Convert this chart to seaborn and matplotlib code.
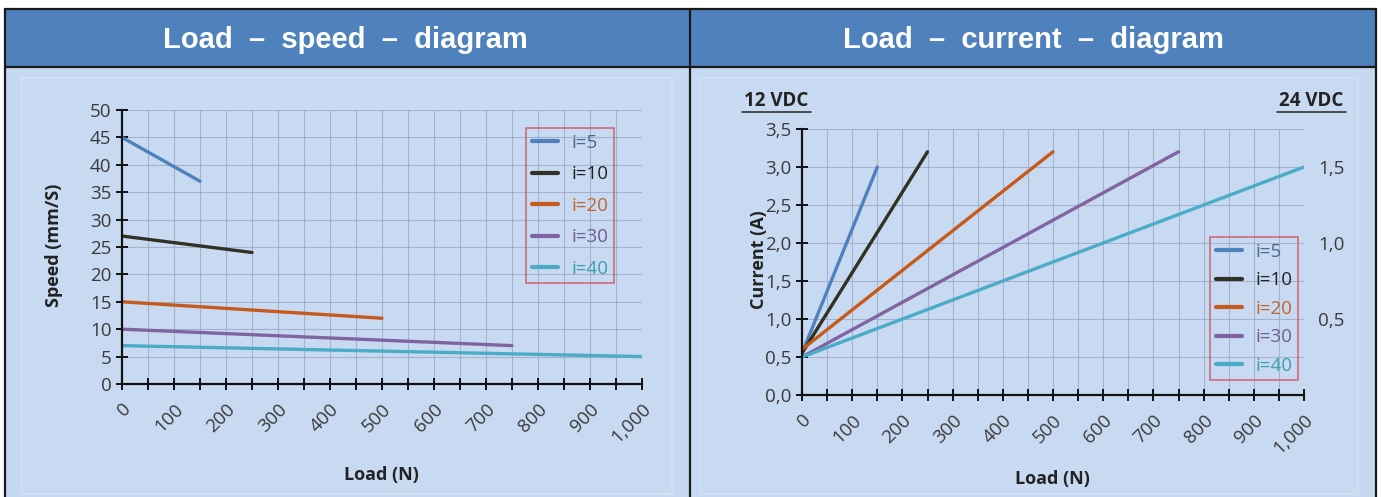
import numpy as np
import pandas as pd
import matplotlib
matplotlib.use("Agg")
import matplotlib.pyplot as plt
from matplotlib.patches import Rectangle
from matplotlib.lines import Line2D
from matplotlib.ticker import MultipleLocator, FuncFormatter
import seaborn as sns

# data
ratios = ["i=5", "i=10", "i=20", "i=30", "i=40"]
load_end = [150, 250, 500, 750, 1000]
speed_start = [45, 27, 15, 10, 7]
speed_end = [37, 24, 12, 7, 5]
current_start = [0.55, 0.55, 0.6, 0.5, 0.5]
current_end = [3.0, 3.2, 3.2, 3.2, 3.0]

x_ticks = [0, 100, 200, 300, 400, 500, 600, 700, 800, 900, 1000]
x_tick_labels = ["0", "100", "200", "300", "400", "500", "600", "700", "800", "900", "1,000"]

line_colors = ["#4F81BD", "#323224", "#C55A1C", "#8064A2", "#4BACC6"]
text_colors = ["#4A6890", "#222222", "#C0652A", "#6E5C92", "#3B9FB0"]

HEADER = "#4F81BD"
BODY = "#C6D9F1"
GRID = "#97A5C2"


def build_frame(y_start, y_end):
    rows = []
    for name, xe, ys, ye in zip(ratios, load_end, y_start, y_end):
        rows.append({"ratio": name, "load": 0, "value": ys})
        rows.append({"ratio": name, "load": xe, "value": ye})
    return pd.DataFrame(rows)


speed_df = build_frame(speed_start, speed_end)
current_df = build_frame(current_start, current_end)

sns.set_theme(style="white")
plt.rcParams["font.family"] = ["Open Sans", "DejaVu Sans"]

fig = plt.figure(figsize=(13.81, 4.97), dpi=100)
fig.patch.set_facecolor("white")

W, H = 1381, 497


def px(x, y, w, h):
    return (x / W, 1 - (y + h) / H, w / W, h / H)


# panel backgrounds and header band
for x0 in (6, 691):
    b = px(x0, 68, 685 if x0 == 6 else 684, 429)
    fig.patches.append(Rectangle(b[:2], b[2], b[3], transform=fig.transFigure,
                                 facecolor=BODY, edgecolor="none", zorder=-3))
hb = px(6, 10, 1369, 57)
fig.patches.append(Rectangle(hb[:2], hb[2], hb[3], transform=fig.transFigure,
                             facecolor=HEADER, edgecolor="none", zorder=-3))
# subtle chart-area frames
for (x0, w0) in ((22, 650), (700, 658)):
    b = px(x0, 78, w0, 416)
    fig.patches.append(Rectangle(b[:2], b[2], b[3], transform=fig.transFigure,
                                 facecolor="#C8DAF1", edgecolor="#D3E1F4", lw=1.2, zorder=-2))
# borders
for (x0, y0, x1, y1) in ((5, 9, 1376, 9), (5, 9, 5, 497), (1376, 9, 1376, 497),
                         (5, 67, 1376, 67), (690, 9, 690, 497)):
    fig.lines.append(Line2D([x0 / W, x1 / W], [1 - y0 / H, 1 - y1 / H],
                            transform=fig.transFigure, color="#1A1A1A", lw=1.6, zorder=1))

fig.text(345 / W, 1 - 40 / H, "Load  –  speed  –  diagram", color="white", fontsize=21,
         fontweight="bold", family="Liberation Sans", ha="center", va="center")
fig.text(1033 / W, 1 - 40 / H, "Load  –  current  –  diagram", color="white", fontsize=21,
         fontweight="bold", family="Liberation Sans", ha="center", va="center")


def style_axes(ax, ymax, ystep, yfmt, legend_xy, legend_gap):
    ax.set_facecolor("none")
    ax.set_xlim(0, 1000)
    ax.set_ylim(0, ymax)
    ax.xaxis.set_minor_locator(MultipleLocator(50))
    ax.set_xticks(x_ticks)
    ax.set_xticklabels(x_tick_labels, rotation=45, ha="right", rotation_mode="anchor")
    ax.yaxis.set_major_locator(MultipleLocator(ystep))
    ax.yaxis.set_major_formatter(FuncFormatter(yfmt))
    ax.grid(True, which="both", axis="x", color=GRID, lw=0.8, alpha=0.75)
    ax.grid(True, which="major", axis="y", color=GRID, lw=0.8, alpha=0.75)
    ax.set_axisbelow(True)
    for s in ("top", "right"):
        ax.spines[s].set_visible(False)
    for s in ("left", "bottom"):
        ax.spines[s].set_color("#111111")
        ax.spines[s].set_linewidth(1.6)
    ax.tick_params(axis="both", which="both", direction="inout", color="#111111",
                   width=1.4, labelsize=13.5, labelcolor="#3A3A3A", bottom=True, left=True)
    ax.tick_params(axis="x", which="major", length=9, pad=7)
    ax.tick_params(axis="x", which="minor", length=9)
    ax.tick_params(axis="y", which="major", length=9, pad=3)
    leg = ax.legend(loc="upper left", bbox_to_anchor=legend_xy, frameon=True, fontsize=13.5,
                    handlelength=1.4, handletextpad=0.7, labelspacing=legend_gap,
                    borderpad=0.3, borderaxespad=0)
    leg.get_frame().set_edgecolor("#D0505A")
    leg.get_frame().set_facecolor("none")
    leg.get_frame().set_linewidth(1.2)
    leg.get_frame().set_boxstyle("square", pad=0)
    for txt, c in zip(leg.get_texts(), text_colors):
        txt.set_color(c)
    for h in leg.get_lines():
        h.set_linewidth(3)


# left: load - speed
ax1 = fig.add_axes(px(122, 110, 520, 274))
sns.lineplot(data=speed_df, x="load", y="value", hue="ratio", hue_order=ratios,
             palette=line_colors, lw=2.4, ax=ax1)
style_axes(ax1, 50, 5, lambda v, p: f"{v:.0f}", (0.777, 0.934), 0.72)
ax1.set_xlabel("Load (N)", fontsize=13, fontweight="bold", color="#222222")
ax1.set_ylabel("Speed (mm/S)", fontsize=13, fontweight="bold", color="#222222")
ax1.xaxis.set_label_coords(0.498, -0.30)
ax1.yaxis.set_label_coords(-0.113, 0.507)

# right: load - current
ax2 = fig.add_axes(px(802, 129, 502, 266))
sns.lineplot(data=current_df, x="load", y="value", hue="ratio", hue_order=ratios,
             palette=line_colors, lw=2.4, ax=ax2)
style_axes(ax2, 3.5, 0.5, lambda v, p: f"{v:.1f}".replace(".", ","), (0.813, 0.594), 0.56)
ax2.set_xlabel("Load (N)", fontsize=13, fontweight="bold", color="#222222")
ax2.set_ylabel("Current (A)", fontsize=13, fontweight="bold", color="#222222")
ax2.xaxis.set_label_coords(0.498, -0.282)
ax2.yaxis.set_label_coords(-0.068, 0.51)

# 24 VDC scale on the right (half of the 12 VDC current)
ax3 = ax2.twinx()
ax3.set_ylim(0, 3.5 / 2)
ax3.set_yticks([0.5, 1.0, 1.5])
ax3.yaxis.set_major_formatter(FuncFormatter(lambda v, p: f"{v:.1f}".replace(".", ",")))
for s in ax3.spines.values():
    s.set_visible(False)
ax3.tick_params(axis="y", length=0, pad=10, labelsize=13.5, labelcolor="#3A3A3A")
ax3.grid(False)

for label, xc, x0, x1 in (("12 VDC", 776, 742, 811), ("24 VDC", 1311, 1277, 1346)):
    fig.text(xc / W, 1 - 101 / H, label, fontsize=13.5, fontweight="bold", color="#222222",
             ha="center", va="center")
    fig.lines.append(Line2D([x0 / W, x1 / W], [1 - 112 / H, 1 - 112 / H],
                            transform=fig.transFigure, color="#333333", lw=1.2))

fig.savefig("out.png", dpi=100)
